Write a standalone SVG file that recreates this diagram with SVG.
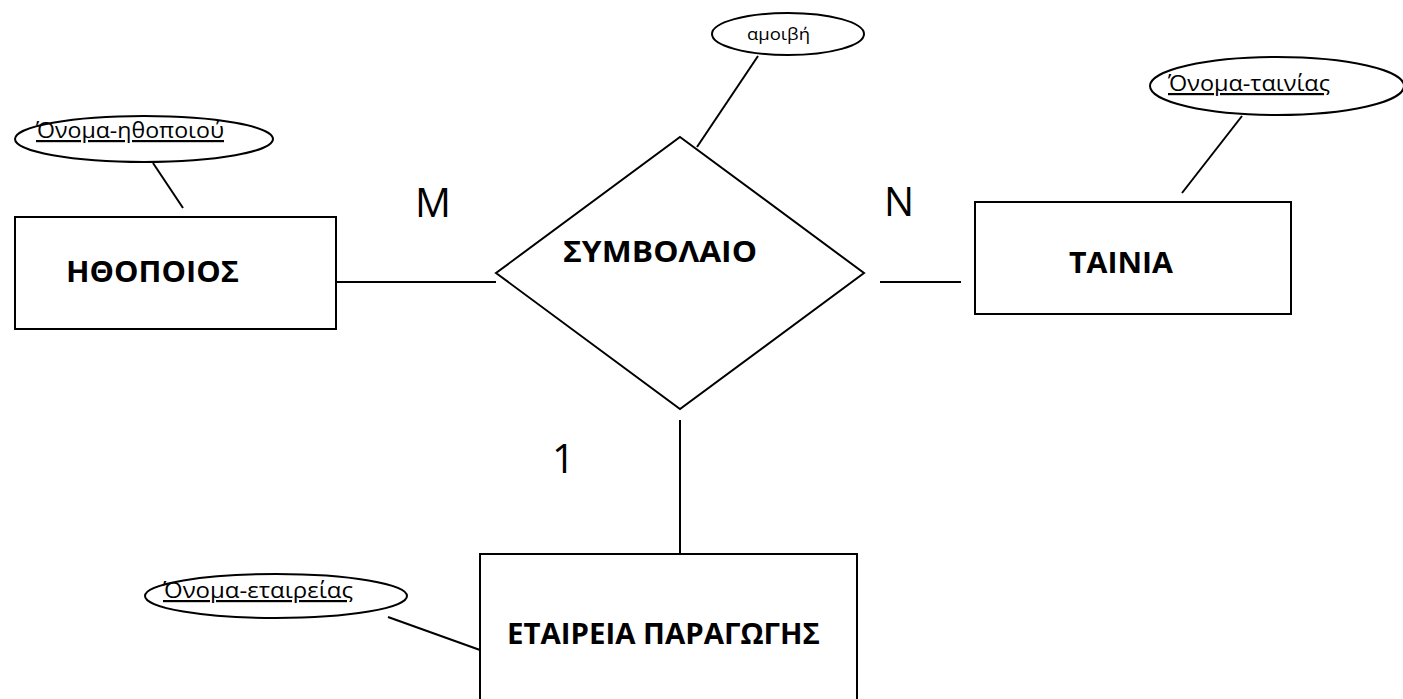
<svg xmlns="http://www.w3.org/2000/svg" width="1403" height="699" viewBox="0 0 1403 699">
  <style>
    .shape { fill: #ffffff; stroke: #000000; stroke-width: 2; }
    .link { fill: none; stroke: #000000; stroke-width: 2; }
    .title { font-family: "Open Sans", "Liberation Sans", sans-serif; font-weight: bold; font-size: 29px; fill: #000000; }
    .attr { font-family: "Open Sans", "Liberation Sans", sans-serif; font-size: 22px; fill: #000000; text-decoration: underline; }
    .attr-plain { font-family: "Open Sans", "Liberation Sans", sans-serif; font-size: 17px; fill: #000000; }
    .card { font-family: "Open Sans", "Liberation Sans", sans-serif; font-size: 40px; fill: #000000; }
  </style>
  <rect width="1403" height="699" fill="#ffffff"/>

  <!-- connectors -->
  <g id="connectors">
    <line class="link" x1="336" y1="282" x2="496" y2="282"/>
    <line class="link" x1="880" y1="282" x2="961" y2="282"/>
    <line class="link" x1="680" y1="420" x2="680" y2="556"/>
    <line class="link" x1="153" y1="163" x2="183" y2="208"/>
    <line class="link" x1="758" y1="56" x2="697" y2="147"/>
    <line class="link" x1="1242" y1="116" x2="1182" y2="193"/>
    <line class="link" x1="388" y1="617" x2="480" y2="650"/>
  </g>

  <!-- entity: actor -->
  <g id="actor">
    <rect class="shape" x="15" y="217" width="321" height="112"/>
    <text class="title" x="66" y="282" textLength="173" lengthAdjust="spacingAndGlyphs">ΗΘΟΠΟΙΟΣ</text>
  </g>

  <!-- relationship: contract -->
  <g id="contract">
    <polygon class="shape" points="680,137 864,273 680,409 496,273"/>
    <text class="title" x="563" y="262" textLength="194" lengthAdjust="spacingAndGlyphs">ΣΥΜΒΟΛΑΙΟ</text>
  </g>

  <!-- entity: film -->
  <g id="film">
    <rect class="shape" x="975" y="202" width="316" height="112"/>
    <text class="title" x="1069" y="273" textLength="104" lengthAdjust="spacingAndGlyphs">ΤΑΙΝΙΑ</text>
  </g>

  <!-- entity: production company -->
  <g id="company">
    <rect class="shape" x="480" y="554" width="377" height="170"/>
    <text class="title" x="507" y="644" textLength="313" lengthAdjust="spacingAndGlyphs">ΕΤΑΙΡΕΙΑ ΠΑΡΑΓΩΓΗΣ</text>
  </g>

  <!-- attributes -->
  <g id="attr-actor-name">
    <ellipse class="shape" cx="144" cy="139" rx="129" ry="23"/>
    <text class="attr" x="36" y="138" textLength="188" lengthAdjust="spacingAndGlyphs">Όνομα-ηθοποιού</text>
  </g>
  <g id="attr-fee">
    <ellipse class="shape" cx="788" cy="34" rx="76" ry="21"/>
    <text class="attr-plain" x="747" y="40" textLength="63" lengthAdjust="spacingAndGlyphs">αμοιβή</text>
  </g>
  <g id="attr-film-name">
    <ellipse class="shape" cx="1277" cy="86" rx="127" ry="29"/>
    <text class="attr" x="1168" y="91" textLength="162" lengthAdjust="spacingAndGlyphs">Όνομα-ταινίας</text>
  </g>
  <g id="attr-company-name">
    <ellipse class="shape" cx="276" cy="596" rx="131" ry="22"/>
    <text class="attr" x="163" y="598" textLength="190" lengthAdjust="spacingAndGlyphs">Όνομα-εταιρείας</text>
  </g>

  <!-- cardinalities -->
  <g id="cardinalities">
    <text class="card" x="415" y="217">M</text>
    <text class="card" x="884" y="216">N</text>
    <text class="card" x="552" y="473">1</text>
  </g>
</svg>
